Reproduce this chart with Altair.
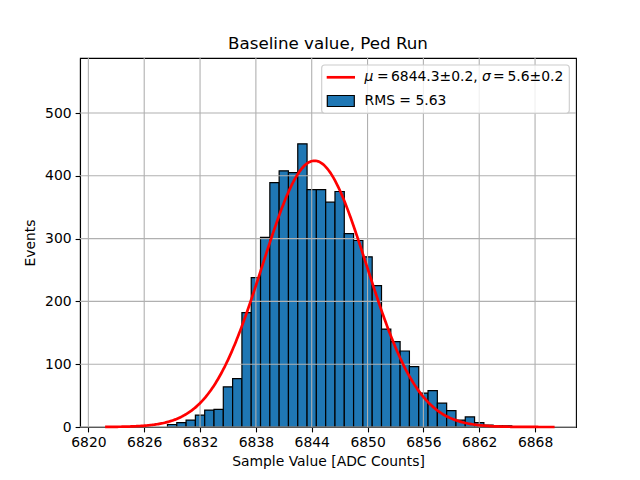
import altair as alt
import pandas as pd
import numpy as np

# ---- data ----
bin_centers = list(range(6829, 6866))
counts = [4, 7, 11, 19, 27, 28, 64, 77, 182, 238, 302, 389, 408, 405, 451, 378,
          378, 358, 375, 308, 297, 271, 225, 156, 136, 121, 96, 54, 58, 38, 26,
          11, 16, 7, 3, 2, 2]
fit_mu = 6844.3
fit_sigma = 5.6
fit_amp = 424.0
fit_range = [6821.8, 6870.1]
x_ticks = [6820, 6826, 6832, 6838, 6844, 6850, 6856, 6862, 6868]
y_ticks = [0, 100, 200, 300, 400, 500]
x_domain = [6819.1, 6872.4]
y_domain = [0, 587.6]

FONT = "DejaVu Sans"
W, H = 496, 369

hist = pd.DataFrame({
    "lo": [c - 0.5 for c in bin_centers],
    "hi": [c + 0.5 for c in bin_centers],
    "count": counts,
})
xs = np.linspace(fit_range[0], fit_range[1], 400)
curve = pd.DataFrame({"lo": xs, "count": fit_amp * np.exp(-0.5 * ((xs - fit_mu) / fit_sigma) ** 2)})

xscale = alt.Scale(domain=x_domain, nice=False, zero=False)
yscale = alt.Scale(domain=y_domain, nice=False)

xaxis = alt.Axis(values=x_ticks, format="d", title="Sample Value [ADC Counts]", grid=False,
                 labelPadding=4, titlePadding=5, labelFlush=False)
yaxis = alt.Axis(values=y_ticks, format="d", title="Events", grid=False,
                 labelPadding=4, titlePadding=7)

X = alt.X("lo:Q", scale=xscale, axis=xaxis)
Y = alt.Y("count:Q", scale=yscale, axis=yaxis)

bars = alt.Chart(hist).mark_rect(fill="#1f77b4", stroke="black", strokeWidth=1.2).encode(
    x=X, x2="hi:Q", y=Y, y2=alt.datum(0),
)

xgrid = alt.Chart(pd.DataFrame({"lo": x_ticks})).mark_rule(color="#b0b0b0", strokeWidth=1.1).encode(
    x=X
)
ygrid = alt.Chart(pd.DataFrame({"count": y_ticks})).mark_rule(color="#b0b0b0", strokeWidth=1.1).encode(
    y=Y
)

line = alt.Chart(curve).mark_line(color="red", strokeWidth=2.7).encode(x=X, y=Y)

# ---- legend (drawn by hand to match matplotlib's box) ----
leg_df = pd.DataFrame({"a": [0]})
box = alt.Chart(leg_df).mark_rect(fill="white", fillOpacity=0.8, stroke="#cccccc",
                                   strokeWidth=1.1, cornerRadius=3).encode(
    x=alt.value(241.7), x2=alt.value(489.3), y=alt.value(7), y2=alt.value(55.3)
)
leg_line = alt.Chart(leg_df).mark_rule(color="red", strokeWidth=2.7).encode(
    x=alt.value(246.7), x2=alt.value(275), y=alt.value(19.3)
)
leg_rect = alt.Chart(leg_df).mark_rect(fill="#1f77b4", stroke="black", strokeWidth=1.2).encode(
    x=alt.value(247.3), x2=alt.value(274.3), y=alt.value(37.5), y2=alt.value(48.5)
)

def txt(s, x, y, italic=False):
    return alt.Chart(leg_df).mark_text(text=s, font=FONT, fontSize=13.9, align="left",
                                       baseline="middle", color="black",
                                       fontStyle="italic" if italic else "normal").encode(
        x=alt.value(x), y=alt.value(y)
    )

legend_texts = [
    txt("μ", 284.5, 18.5, True),
    txt("=", 297.0, 18.5),
    txt("6844.3±0.2,", 311.0, 18.5),
    txt("σ", 402.0, 18.5, True),
    txt("=", 413.0, 18.5),
    txt("5.6±0.2", 427.5, 18.5),
    txt("RMS = 5.63", 284.5, 42.5),
]

chart = alt.layer(bars, xgrid, ygrid, line, box, leg_line, leg_rect, *legend_texts).properties(
    width=W, height=H,
    title=alt.TitleParams("Baseline value, Ped Run", font=FONT, fontSize=16.7,
                          fontWeight="normal", color="black", offset=5, anchor="middle"),
    autosize=alt.AutoSizeParams(type="none"),
    padding={"left": 72, "top": 50, "right": 56, "bottom": 45},
).configure_view(stroke="black", strokeWidth=1.1).configure_axis(
    labelFont=FONT, titleFont=FONT, labelFontSize=13.9, titleFontSize=13.9,
    titleFontWeight="normal", labelColor="black", titleColor="black",
    tickColor="black", tickSize=4.9, tickWidth=1.1, domainColor="black", domainWidth=1.1,
)

chart.save("out.html", embed_options={"renderer": "svg", "actions": False})
